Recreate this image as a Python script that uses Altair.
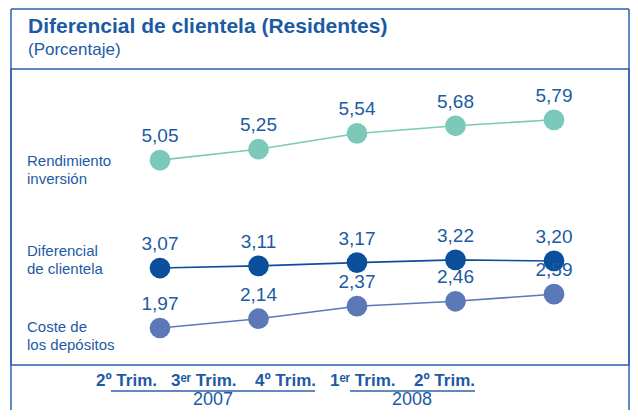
import altair as alt
import pandas as pd

quarters = ["2T07", "3T07", "4T07", "1T08", "2T08"]
quarter_labels = ["2º Trim.", "3ᵉʳ Trim.", "4º Trim.", "1ᵉʳ Trim.", "2º Trim."]
years = ["2007", "2008"]
rendimiento = [5.05, 5.25, 5.54, 5.68, 5.79]
diferencial = [3.07, 3.11, 3.17, 3.22, 3.20]
coste = [1.97, 2.14, 2.37, 2.46, 2.59]
series_names = ["Rendimiento inversión", "Diferencial de clientela", "Coste de los depósitos"]
series_colors = ["#7cc9b9", "#0b4f9c", "#5b78b7"]

TXT = "#1c5aa4"
LINE = "#2b62aa"
NARROW = "Liberation Sans Narrow, Liberation Sans, sans-serif"
REG = "Liberation Sans, sans-serif"

rows = []
for name, vals in zip(series_names, [rendimiento, diferencial, coste]):
    for q, v in zip(quarters, vals):
        rows.append({"quarter": q, "serie": name, "value": v,
                     "label": f"{v:.2f}".replace(".", ",")})
df = pd.DataFrame(rows)
qdf = pd.DataFrame({"quarter": quarters, "qlabel": quarter_labels})
ydf = pd.DataFrame({"year": years})

W, H = 618, 296

x = alt.X("quarter:N", sort=quarters, scale=alt.Scale(type="point", range=[149, 543], padding=0), axis=None)
y = alt.Y("value:Q", scale=alt.Scale(domain=[1.291, 6.722]), axis=None)
color = alt.Color("serie:N", scale=alt.Scale(domain=series_names, range=series_colors), legend=None)

base = alt.Chart(df)
lines = base.mark_line(strokeWidth=1.6).encode(x=x, y=y, color=color, detail="serie:N")
points = base.mark_circle(size=430, opacity=1).encode(x=x, y=y, color=color)
values = base.mark_text(dy=-24, fontSize=19, font=REG, color=TXT).encode(x=x, y=y, text="label:N")
main = alt.layer(lines, points, values)

one = alt.Data(values=[{}])

def txt(t, xv, yv, size, weight="normal", font=REG, align="left", baseline="alphabetic"):
    return alt.Chart(one).mark_text(text=t, fontSize=size, fontWeight=weight, font=font,
                                    color=TXT, align=align, baseline=baseline, lineBreak="\n",
                                    lineHeight=size + 3).encode(x=alt.value(xv), y=alt.value(yv))

def rule(x1, y1, x2, y2, w=1.5):
    return alt.Chart(one).mark_rule(color=LINE, strokeWidth=w).encode(
        x=alt.value(x1), y=alt.value(y1), x2=alt.value(x2), y2=alt.value(y2))

title = txt("Diferencial de clientela (Residentes)", 17, -36, 21, "bold", NARROW)
subtitle = txt("(Porcentaje)", 17, -14, 17, "normal", NARROW)

lab1 = txt("Rendimiento\ninversión", 16, 92, 15, baseline="middle")
lab2 = txt("Diferencial\nde clientela", 16, 182, 15, baseline="middle")
lab3 = txt("Coste de\nlos depósitos", 16, 258, 15, baseline="middle")

qx = alt.X("quarter:N", sort=quarters, scale=alt.Scale(type="point", range=[146, 464], padding=0), axis=None)
qlabels = alt.Chart(qdf).mark_text(fontSize=17, fontWeight="bold", font=NARROW, color=TXT,
                                   align="right", baseline="alphabetic").encode(
    x=qx, y=alt.value(317), text="qlabel:N")
yx = alt.X("year:N", sort=years, scale=alt.Scale(type="point", range=[202, 401], padding=0), axis=None)
ylabels = alt.Chart(ydf).mark_text(fontSize=18, font=NARROW, color=TXT,
                                   align="center", baseline="bottom").encode(
    x=yx, y=alt.value(340), text="year:N")

frame = alt.layer(
    rule(0, -60, 0, 341), rule(W, -60, W, 341), rule(0, -60, W, -60),
    rule(100, 322, 304, 322), rule(339, 322, 464, 322),
)

chart = alt.layer(main, qlabels, ylabels, frame, title, subtitle, lab1, lab2, lab3).resolve_scale(
    x="independent"
).properties(
    width=W, height=H,
    autosize=alt.AutoSizeParams(type="none"),
    padding={"left": 3, "top": 61, "right": 1, "bottom": 45},
).configure_view(stroke=LINE, strokeWidth=1.5)

chart.save("out.html", embed_options={"renderer": "svg", "actions": False})
